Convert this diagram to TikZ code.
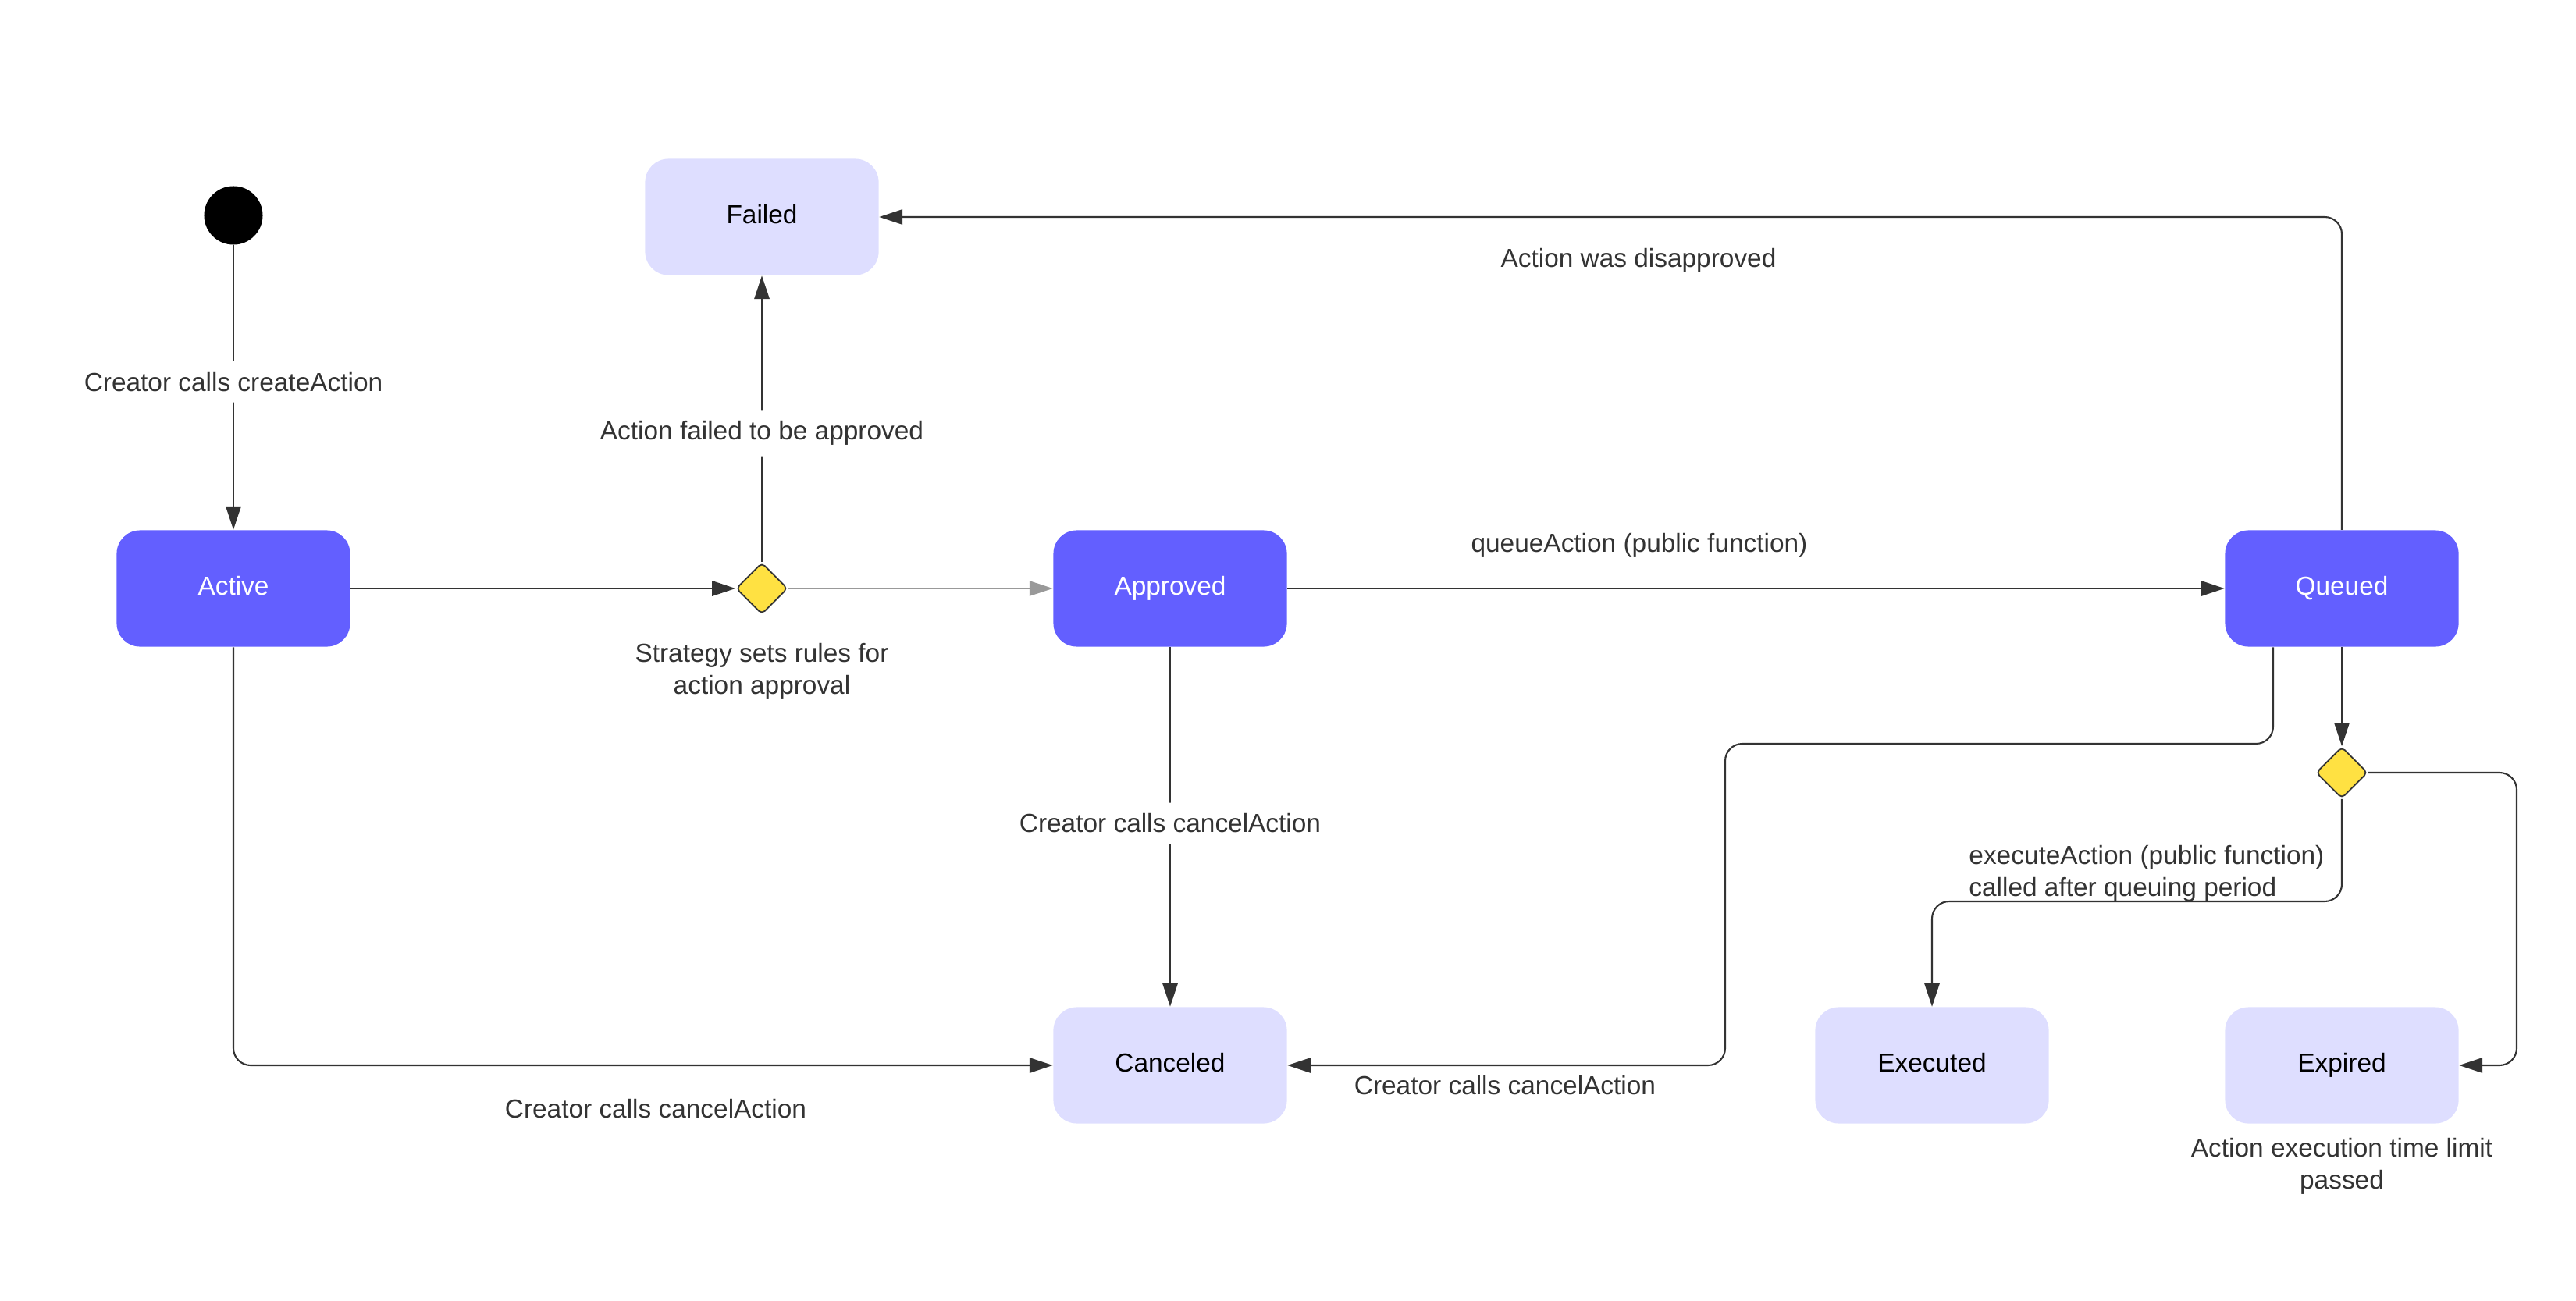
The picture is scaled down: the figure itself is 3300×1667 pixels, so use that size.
\documentclass[tikz,border=0pt]{standalone}
\usepackage{fontspec}
\setmainfont{Liberation Sans}
\usetikzlibrary{shapes.geometric, arrows.meta, positioning}
\definecolor{stateblue}{HTML}{635FFF}
\definecolor{statelight}{HTML}{DEDEFF}
\definecolor{decisionyellow}{HTML}{FFE142}
\definecolor{linegray}{HTML}{333333}
\newcommand\lblfont{\fontsize{9.5}{11.6}\selectfont}
\tikzset{
    % Running states - dark blue rounded boxes
    active state/.style={rectangle, rounded corners=0.3cm, fill=stateblue, text=white,
        minimum width=2.99cm, minimum height=1.49cm, inner sep=0pt, font=\lblfont,
        text height=6.8pt, text depth=2.2pt},
    % Final states - light blue rounded boxes
    final state/.style={active state, fill=statelight, text=black},
    % Initial state - black dot
    start point/.style={circle, fill=black, minimum size=0.75cm, inner sep=0pt},
    % Decision points - yellow diamonds
    decision/.style={diamond, draw=linegray, fill=decisionyellow, line width=0.5pt,
        rounded corners=1.5pt, minimum width=0.66cm, minimum height=0.66cm, inner sep=0pt},
    % Transitions - dark lines with filled heads
    transition/.style={draw=linegray, line width=0.6pt, rounded corners=0.22cm,
        -{Triangle[length=8.5pt, width=5.5pt]}},
    faint transition/.style={transition, draw=black!40, line width=0.4pt},
    % Transition labels
    edge label/.style={text=linegray, font=\lblfont, align=center},
    on line/.style={edge label, fill=white, inner sep=4pt}
}

\begin{document}
\begin{tikzpicture}[x=0.01cm, y=-0.01cm]
    \useasboundingbox (0,0) rectangle (3300,1667);

    % --- States ---
    \node[start point] (start) at (299,276) {};
    \node[active state] (active) at (299,754) {Active};
    \node[final state] (failed) at (976,278) {Failed};
    \node[decision] (approval) at (976,754) {};
    \node[active state] (approved) at (1499,754) {Approved};
    \node[active state] (queued) at (3000,754) {Queued};
    \node[decision] (execution) at (3000,990) {};
    \node[final state] (canceled) at (1499,1365) {Canceled};
    \node[final state] (executed) at (2475,1365) {Executed};
    \node[final state] (expired) at (3000,1365) {Expired};

    % --- Bend points ---
    \coordinate (qleft) at (2912,953);
    \coordinate (cbend) at (2210,953);
    \coordinate (xbend) at (2475,1155);
    \coordinate (eright) at (3224,1365);

    % --- Transitions ---
    \draw[transition] (start) -- node[on line, pos=0.48] {Creator calls createAction} (active);
    \draw[transition] (active) -- (approval);
    \draw[transition] (approval) -- node[on line, pos=0.45] {Action failed to be approved} (failed);
    \draw[faint transition] (approval) -- (approved);
    \draw[transition] (approved) -- (queued);
    \draw[transition] (queued.north) |- (failed.east);
    \draw[transition] (approved) -- node[on line, pos=0.49] {Creator calls cancelAction} (canceled);
    \draw[transition] (active.south) |- (canceled.west);
    \draw[transition] (queued.south -| qleft) |- (cbend) |- (canceled.east);
    \draw[transition] (queued) -- (execution);
    \draw[transition] (execution.south) |- (xbend) -- (executed.north);
    \draw[transition] (execution.east) -| (eright) -- (expired.east);

    % --- Labels ---
    \node[edge label] (strategy) at (976,860) {Strategy sets rules for\\action approval};
    \node[edge label] (queuelbl) at (2100,699) {queueAction (public function)};
    \node[edge label] (disapproved) at (2099,334) {Action was disapproved};
    \node[edge label] (cancelleft) at (840,1421) {Creator calls cancelAction};
    \node[edge label] (cancelright) at (1928,1391) {Creator calls cancelAction};
    \node[edge label, anchor=west, align=left] (executelbl) at (2510,1119)
        {executeAction (public function)\\called after queuing period};
    \node[edge label] (expiredlbl) at (3000,1494) {Action execution time limit\\passed};

\end{tikzpicture}
\end{document}
